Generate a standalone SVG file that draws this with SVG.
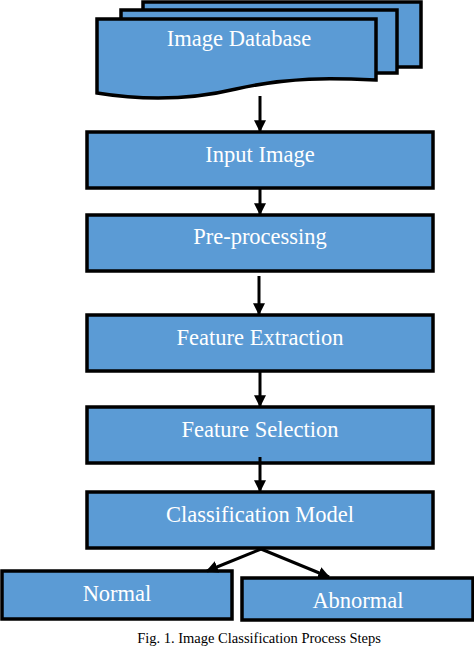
<svg xmlns="http://www.w3.org/2000/svg" width="474" height="647" viewBox="0 0 474 647">
<defs>
<style>
.box{fill:#5b9bd5;stroke:#000;stroke-width:3.5}
.lbl{font-family:"Liberation Serif","Times New Roman",serif;font-size:22.5px;fill:#fff;text-anchor:middle}
.cap{font-family:"Liberation Serif","Times New Roman",serif;font-size:14.5px;fill:#000;text-anchor:middle}
.conn{stroke:#000;stroke-width:3;fill:none}
</style>
<marker id="ah" markerWidth="4" markerHeight="4" refX="3.6" refY="2" orient="auto" markerUnits="strokeWidth">
<path d="M0,0 L4,2 L0,4 Z" fill="#000"/>
</marker>
</defs>
<rect width="474" height="647" fill="#fff"/>
<g id="image-database">
<rect class="box" x="143" y="2" width="278" height="65"/>
<rect class="box" x="121" y="10" width="276" height="63"/>
<path class="box" d="M97,19 H376 V80 C330,78 290,77 236,89 C190,100 140,100 97,93 Z"/>
<text class="lbl" x="239" y="46">Image Database</text>
</g>
<g id="input-image">
<rect class="box" x="87" y="132" width="346" height="56"/>
<text class="lbl" x="260" y="162">Input Image</text>
</g>
<g id="pre-processing">
<rect class="box" x="87" y="215" width="346" height="56"/>
<text class="lbl" x="260" y="244">Pre-processing</text>
</g>
<g id="feature-extraction">
<rect class="box" x="87" y="315" width="346" height="56"/>
<text class="lbl" x="260" y="345">Feature Extraction</text>
</g>
<g id="feature-selection">
<rect class="box" x="87" y="407" width="346" height="56"/>
<text class="lbl" x="260" y="437">Feature Selection</text>
</g>
<g id="classification-model">
<rect class="box" x="87" y="492" width="346" height="56"/>
<text class="lbl" x="260" y="522">Classification Model</text>
</g>
<g id="normal">
<rect class="box" x="2" y="571" width="230" height="48"/>
<text class="lbl" x="117" y="601">Normal</text>
</g>
<g id="abnormal">
<rect class="box" x="242" y="578" width="231" height="42"/>
<text class="lbl" x="358" y="608">Abnormal</text>
</g>
<g id="connectors">
<line class="conn" x1="260" y1="96" x2="260" y2="131" marker-end="url(#ah)"/>
<line class="conn" x1="260" y1="188" x2="260" y2="214" marker-end="url(#ah)"/>
<line class="conn" x1="259" y1="276" x2="259" y2="314" marker-end="url(#ah)"/>
<line class="conn" x1="260" y1="371" x2="260" y2="406" marker-end="url(#ah)"/>
<line class="conn" x1="260" y1="457" x2="260" y2="491" marker-end="url(#ah)"/>
<line class="conn" x1="261" y1="549" x2="207" y2="571" marker-end="url(#ah)"/>
<line class="conn" x1="261" y1="549" x2="329" y2="577" marker-end="url(#ah)"/>
</g>
<text class="cap" x="259" y="643">Fig. 1. Image Classification Process Steps</text>
</svg>
